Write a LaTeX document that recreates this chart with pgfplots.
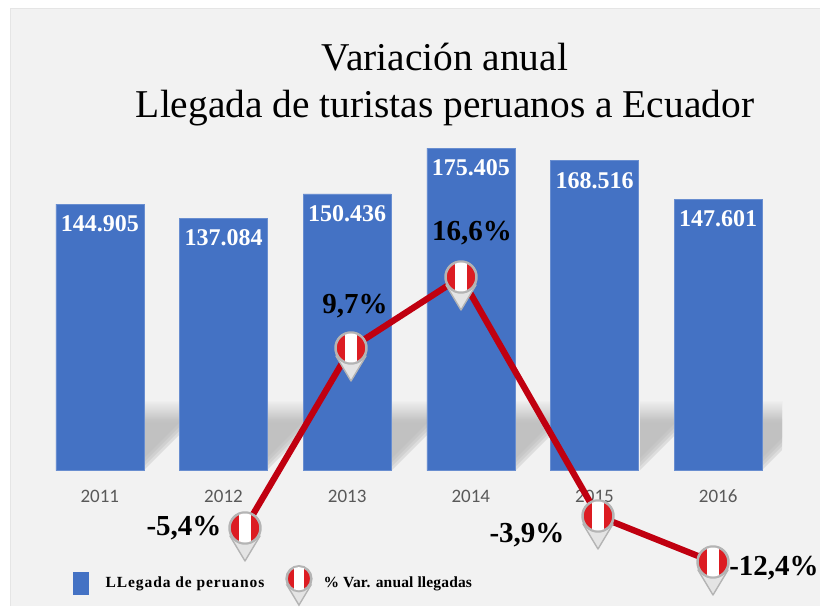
\documentclass[border=0pt]{standalone}
\usepackage{fontspec}
\setmainfont{Liberation Serif}
\newfontfamily\tickfont{Carlito}
\usepackage{pgfplots}
\usepackage{pgfplotstable}
\pgfplotsset{compat=1.18}

\definecolor{panel}{HTML}{F2F2F2}
\definecolor{barblue}{HTML}{4472C4}
\definecolor{linered}{HTML}{C00010}
\definecolor{pinred}{HTML}{DC1C22}
\definecolor{pinrim}{HTML}{B4B4B4}
\definecolor{pintip}{HTML}{E4E4E4}
\definecolor{shadowgray}{HTML}{B8B8B8}

\pgfdeclareverticalshading{barshadow}{100bp}{color(0bp)=(shadowgray); color(58bp)=(shadowgray); color(75bp)=(panel); color(100bp)=(panel)}

% location pin with the flag inside it
\newcommand{\flagpin}{%
  \pgfsetlinewidth{1.4pt}%
  \pgfsetstrokecolor{pinrim}\pgfsetfillcolor{pintip}%
  \pgfpathmoveto{\pgfqpoint{-15pt}{-8pt}}%
  \pgfpathlineto{\pgfqpoint{0pt}{-33pt}}%
  \pgfpathlineto{\pgfqpoint{15pt}{-8pt}}%
  \pgfpathclose\pgfusepath{fill,stroke}%
  \pgfsetlinewidth{2.5pt}\pgfsetfillcolor{pinred}%
  \pgfpathcircle{\pgfpointorigin}{15.5pt}\pgfusepath{fill,stroke}%
  \pgfscope
    \pgfpathcircle{\pgfpointorigin}{14.5pt}\pgfusepath{clip}%
    \pgfsetfillcolor{white}%
    \pgfpathrectangle{\pgfqpoint{-6pt}{-16pt}}{\pgfqpoint{12pt}{32pt}}\pgfusepath{fill}%
  \endpgfscope
}
\pgfdeclareplotmark{flagpin}{\flagpin}

% x, y: where the pin sits on the page; var: the annual change it is labelled with
\pgfplotstableread{
x   y    var    dx   dy
245 78   -5.4  -61    0
351 258   9.7    4   42
461 329   16.6  11   44
598 90   -3.9  -71  -19
713 44   -12.4  61   -6
}\varline

\begin{document}
\begin{tikzpicture}[x=1pt,y=1pt]
\useasboundingbox (0,0) rectangle (820,606);
\fill[white] (0,0) rectangle (820,606);
\fill[panel] (10,0) rectangle (820,597);
\draw[black!10,line width=1pt] (10,0) -- (10,597) -- (820,597);

% soft shadow behind the bars
\begin{scope}
  \clip (0,0) rectangle (782,606);
  \foreach \xr in {144,267,392,516,640,762}
    \foreach \d in {0,4,8,12}
      \path[shading=barshadow,opacity=0.35]
        (\xr,136+\d) -- (\xr+70-\d,206) -- (\xr,206) -- cycle;
\end{scope}

\begin{axis}[
    at={(38pt,135.5pt)},
    anchor=south west,
    scale only axis,
    width=742pt,
    height=340.5pt,
    xmin=2010.5, xmax=2016.5,
    ymin=0, ymax=185198,
    ybar,
    bar width=88pt,
    axis line style={draw=none},
    major tick length=0pt,
    ytick=\empty,
    xtick=data,
    xticklabel style={font=\tickfont\fontsize{19}{22}\selectfont,text=black!65,yshift=-16pt,
      /pgf/number format/1000 sep={},/pgf/number format/assume math mode=true},
    nodes near coords,
    nodes near coords style={font=\bfseries\fontsize{24}{26}\selectfont,text=white,anchor=north,yshift=-8pt,
      /pgf/number format/fixed,/pgf/number format/1000 sep={.},/pgf/number format/assume math mode=true},
  ]
  \addplot[fill=barblue,draw=barblue!80!white] coordinates {
    (2011,144905) (2012,137084) (2013,150436) (2014,175405) (2015,168516) (2016,147601)};
\end{axis}

\begin{axis}[
    at={(0pt,0pt)},
    anchor=south west,
    scale only axis,
    width=820pt,
    height=606pt,
    xmin=0, xmax=820,
    ymin=0, ymax=606,
    hide axis,
    clip=false,
    legend style={at={(73pt,0pt)},anchor=south west,draw=none,fill=none,legend columns=2,
      font=\bfseries\fontsize{15.5}{18}\selectfont,inner sep=0pt,
      /tikz/every even column/.append style={column sep=19pt},
      /tikz/every odd column/.append style={column sep=15pt}},
    legend cell align=left,
  ]
  \addplot[forget plot,linered,line width=6.3pt,line join=round,mark=flagpin,
      visualization depends on={\thisrow{dx}\as\labdx},
      visualization depends on={\thisrow{dy}\as\labdy},
      point meta=explicit,
      nodes near coords={\pgfmathprintnumber{\pgfplotspointmeta}\%},
      nodes near coords style={font=\bfseries\fontsize{29}{32}\selectfont,text=black,anchor=center,
        xshift=\labdx pt,yshift=\labdy pt,
        /pgf/number format/fixed,/pgf/number format/fixed zerofill,/pgf/number format/precision=1,
        /pgf/number format/use comma,/pgf/number format/assume math mode=true},
    ] table[x=x,y=y,meta=var] {\varline};
  \addlegendimage{legend image code/.code={\fill[barblue] (0pt,-11pt) rectangle (15pt,11pt);}}
  \addlegendentry{\addfontfeature{LetterSpace=6}LLegada de peruanos}
  \addlegendimage{legend image code/.code={\begin{scope}[shift={(13pt,4pt)},scale=0.8,transform shape]\flagpin\end{scope}}}
  \addlegendentry{\hspace*{-6pt}\addfontfeature{LetterSpace=1}\% Var. anual llegadas}
\end{axis}

\node[align=center,font=\fontsize{39.4}{47}\selectfont,text=black] at (445,521) {Variación anual\\Llegada de turistas peruanos a Ecuador};
\end{tikzpicture}
\end{document}
